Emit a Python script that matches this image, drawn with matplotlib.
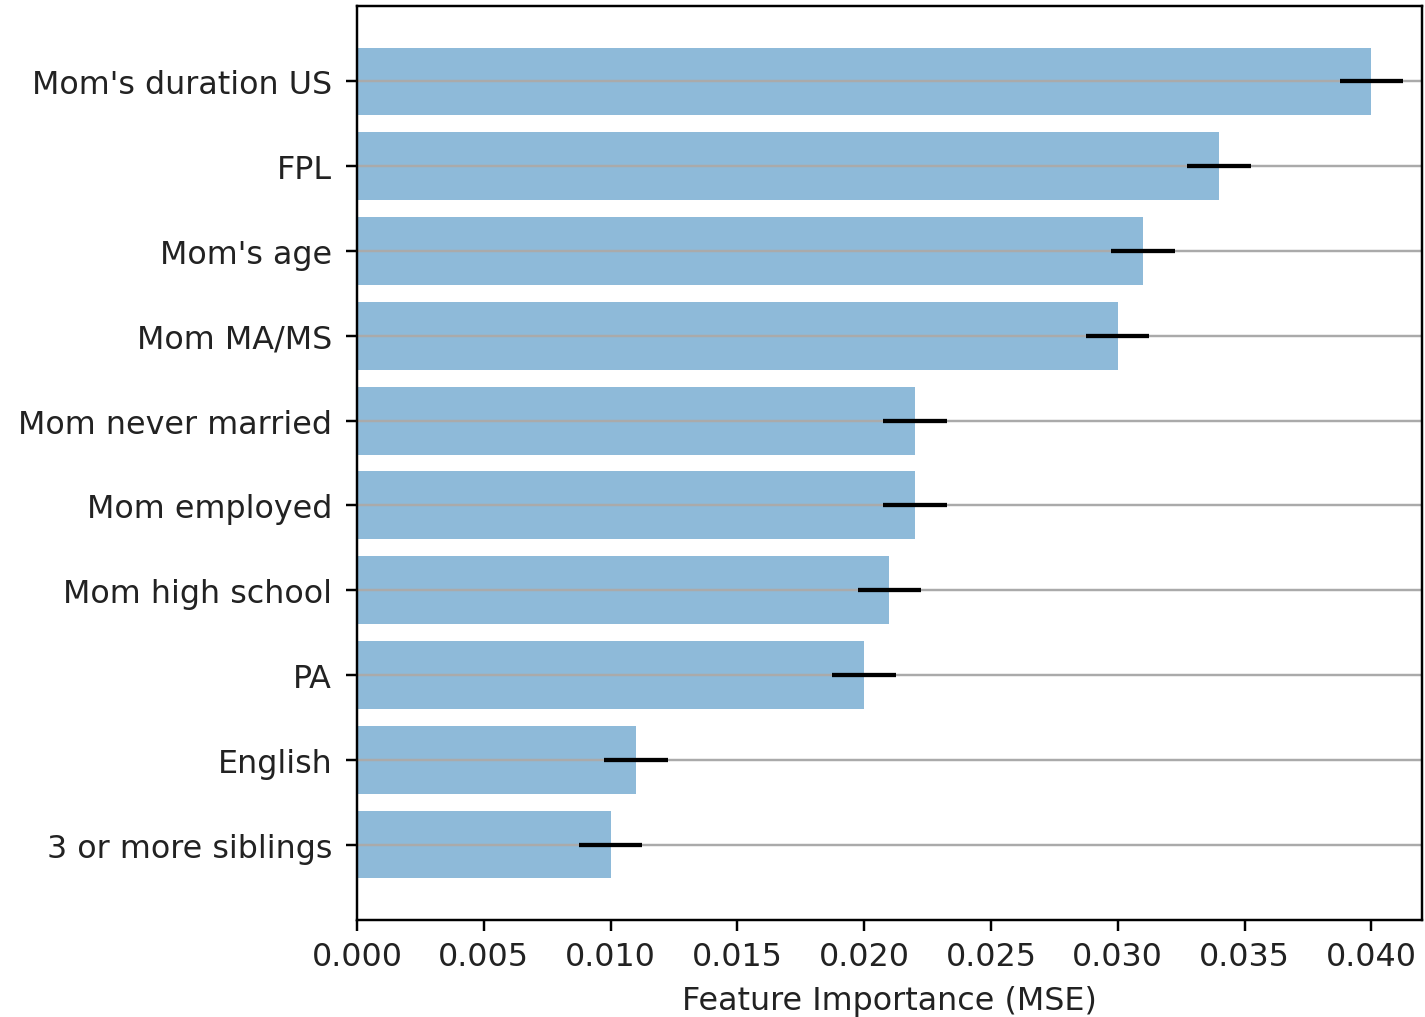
import matplotlib
matplotlib.use("Agg")
import matplotlib.pyplot as plt
import numpy as np

features = ["Mom's duration US", "FPL", "Mom's age", "Mom MA/MS", "Mom never married",
            "Mom employed", "Mom high school", "PA", "English", "3 or more siblings"]
importance = [0.040, 0.034, 0.031, 0.030, 0.022, 0.022, 0.021, 0.020, 0.011, 0.010]
importance_std = [0.00125, 0.00125, 0.00125, 0.00125, 0.00125,
                  0.00125, 0.00125, 0.00125, 0.00125, 0.00125]

plt.rcParams["font.size"] = 10.4
DPI = 220
fig = plt.figure(figsize=(1425 / DPI, 1018 / DPI), dpi=DPI)
ax = fig.add_axes([0.2505, 0.0953, 0.7474, 0.8978])

y = np.arange(len(features))
ax.barh(y, importance, color="#1f77b4", alpha=0.5, height=0.8)
ax.errorbar(importance, y, xerr=importance_std, fmt="none", ecolor="black", elinewidth=1.4)
ax.set_yticks(y)
ax.set_yticklabels(features, color="#222222")
ax.tick_params(axis="y", pad=4.6)
ax.invert_yaxis()
ax.set_xlim(0, 0.042)
ax.grid(axis="y", color="#aaaaaa", linewidth=0.8)
ax.set_xticks([0.000, 0.005, 0.010, 0.015, 0.020, 0.025, 0.030, 0.035, 0.040])
for lbl in ax.get_xticklabels():
    lbl.set_color("#222222")
ax.set_xlabel("Feature Importance (MSE)", color="#222222")

fig.savefig("out.png", dpi=DPI)
